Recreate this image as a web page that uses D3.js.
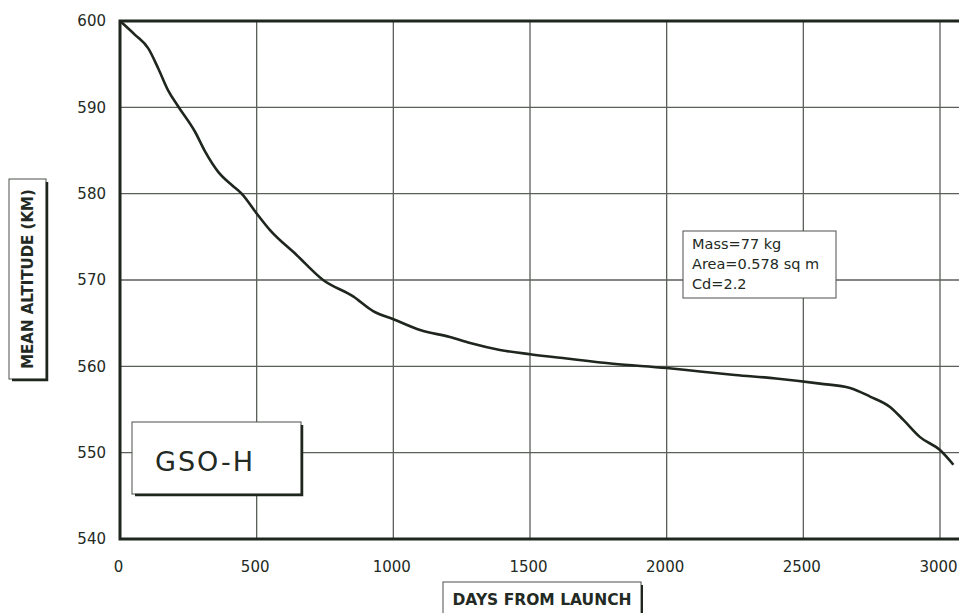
<!DOCTYPE html>
<html>
<head>
    <meta charset="utf-8">
    <title>GSO-H mean altitude</title>
    <script src="https://d3js.org/d3.v7.min.js"></script>
    <style>
        body { margin: 0; background: #fff; }
        text { font-family: "DejaVu Sans", sans-serif; fill: #232a23; }
    </style>
</head>
<body>
    <div id="chart"></div>

    <script>
        // values
        var days = [0, 55, 104, 140, 177, 213, 274, 311, 360, 409, 445, 500, 548, 646, 743, 853, 926, 1005,
            1098, 1207, 1281, 1390, 1500, 1634, 1804, 2000, 2122, 2250, 2400, 2561, 2671, 2744, 2817,
            2866, 2927, 3000, 3049];
        var altitude = [600, 598.4, 596.8, 594.5, 591.9, 590.1, 587.2, 584.9, 582.5, 581.0, 580.0, 577.7,
            575.8, 572.9, 570.0, 568.1, 566.4, 565.4, 564.2, 563.4, 562.7, 561.9, 561.4, 560.9, 560.3,
            559.8, 559.4, 559.0, 558.6, 558.0, 557.5, 556.5, 555.3, 553.8, 551.8, 550.3, 548.6];
        var xTicks = [0, 500, 1000, 1500, 2000, 2500, 3000];
        var yTicks = [540, 550, 560, 570, 580, 590, 600];
        var noteLines = ["Mass=77 kg", "Area=0.578 sq m", "Cd=2.2"];
        var satName = "GSO-H";

        var width = 959, height = 613;
        var ink = "#1e261e", grid = "#5a5f5a";

        var svg = d3.select("#chart").append("svg")
            .attr("width", width)
            .attr("height", height);

        var x = d3.scaleLinear().domain([0, 3000]).range([120, 940]);
        var y = d3.scaleLinear().domain([540, 600]).range([539, 21]);
        var xEnd = 3075; // plot runs off the right edge

        // gridlines
        svg.append("g").selectAll("line.v")
            .data(xTicks.slice(1))
            .enter().append("line")
            .attr("x1", function(d) { return x(d); })
            .attr("x2", function(d) { return x(d); })
            .attr("y1", y(600)).attr("y2", y(540))
            .attr("stroke", grid).attr("stroke-width", 1.3);

        svg.append("g").selectAll("line.h")
            .data(yTicks.slice(1, -1))
            .enter().append("line")
            .attr("x1", x(0)).attr("x2", x(xEnd))
            .attr("y1", function(d) { return y(d); })
            .attr("y2", function(d) { return y(d); })
            .attr("stroke", grid).attr("stroke-width", 1.3);

        // frame: top, left, bottom
        svg.append("path")
            .attr("d", "M" + x(xEnd) + "," + y(600) + "H" + x(0) + "V" + y(540) + "H" + x(xEnd))
            .attr("fill", "none")
            .attr("stroke", ink)
            .attr("stroke-width", 3);

        // tick labels
        var yAxis = svg.append("g")
            .attr("transform", "translate(" + x(0) + ",0)")
            .call(d3.axisLeft(y).tickValues(yTicks).tickFormat(d3.format("d")).tickSize(0).tickPadding(14));
        var xAxis = svg.append("g")
            .attr("transform", "translate(0," + y(540) + ")")
            .call(d3.axisBottom(x).tickValues(xTicks).tickFormat(d3.format("d")).tickSize(0).tickPadding(22));
        [xAxis, yAxis].forEach(function(a) {
            a.select(".domain").remove();
            a.selectAll("text")
                .style("font-family", "'DejaVu Sans', sans-serif")
                .style("font-size", "15px")
                .attr("fill", "#232a23");
        });
        xAxis.selectAll("text").attr("dx", "-2");

        // the decay curve
        var pts = days.map(function(d, i) { return [d, altitude[i]]; });
        svg.append("path")
            .datum(pts)
            .attr("fill", "none")
            .attr("stroke", ink)
            .attr("stroke-width", 2.6)
            .attr("stroke-linejoin", "round")
            .attr("d", d3.line()
                .x(function(d) { return x(d[0]); })
                .y(function(d) { return y(d[1]); })
                .curve(d3.curveMonotoneX));

        // boxes with a little drop shadow
        function box(x0, y0, w, h, sh) {
            var g = svg.append("g");
            g.append("rect")
                .attr("x", x0).attr("y", y0).attr("width", w).attr("height", h)
                .attr("fill", "#fff").attr("stroke", "#4a504a").attr("stroke-width", 1);
            if (sh) {
                g.append("path")
                    .attr("d", "M" + (x0 + w + 1) + "," + (y0 + 3) + "V" + (y0 + h + 1) + "H" + (x0 + 3))
                    .attr("fill", "none").attr("stroke", ink).attr("stroke-width", sh);
            }
            return g;
        }

        // parameter note
        var note = box(683, 231, 153, 67, 0);
        note.selectAll("text")
            .data(noteLines)
            .enter().append("text")
            .attr("x", 692)
            .attr("y", function(d, i) { return 249 + i * 20; })
            .style("font-size", "14.5px")
            .text(function(d) { return d; });

        // satellite label
        var tag = box(132, 422, 169, 72, 2.5);
        tag.append("text")
            .attr("x", 155).attr("y", 471)
            .style("font-size", "27px")
            .style("letter-spacing", "2px")
            .text(satName);

        // axis titles
        box(443, 582, 198, 34, 2);
        svg.append("text")
            .attr("x", 542).attr("y", 605)
            .attr("text-anchor", "middle")
            .style("font-size", "15.5px")
            .style("font-weight", "bold")
            .text("DAYS FROM LAUNCH");

        box(9, 179, 37, 200, 2.5);
        svg.append("text")
            .attr("transform", "translate(33,279) rotate(-90)")
            .attr("text-anchor", "middle")
            .style("font-size", "15px")
            .style("font-weight", "bold")
            .text("MEAN ALTITUDE (KM)");
    </script>
</body>
</html>
